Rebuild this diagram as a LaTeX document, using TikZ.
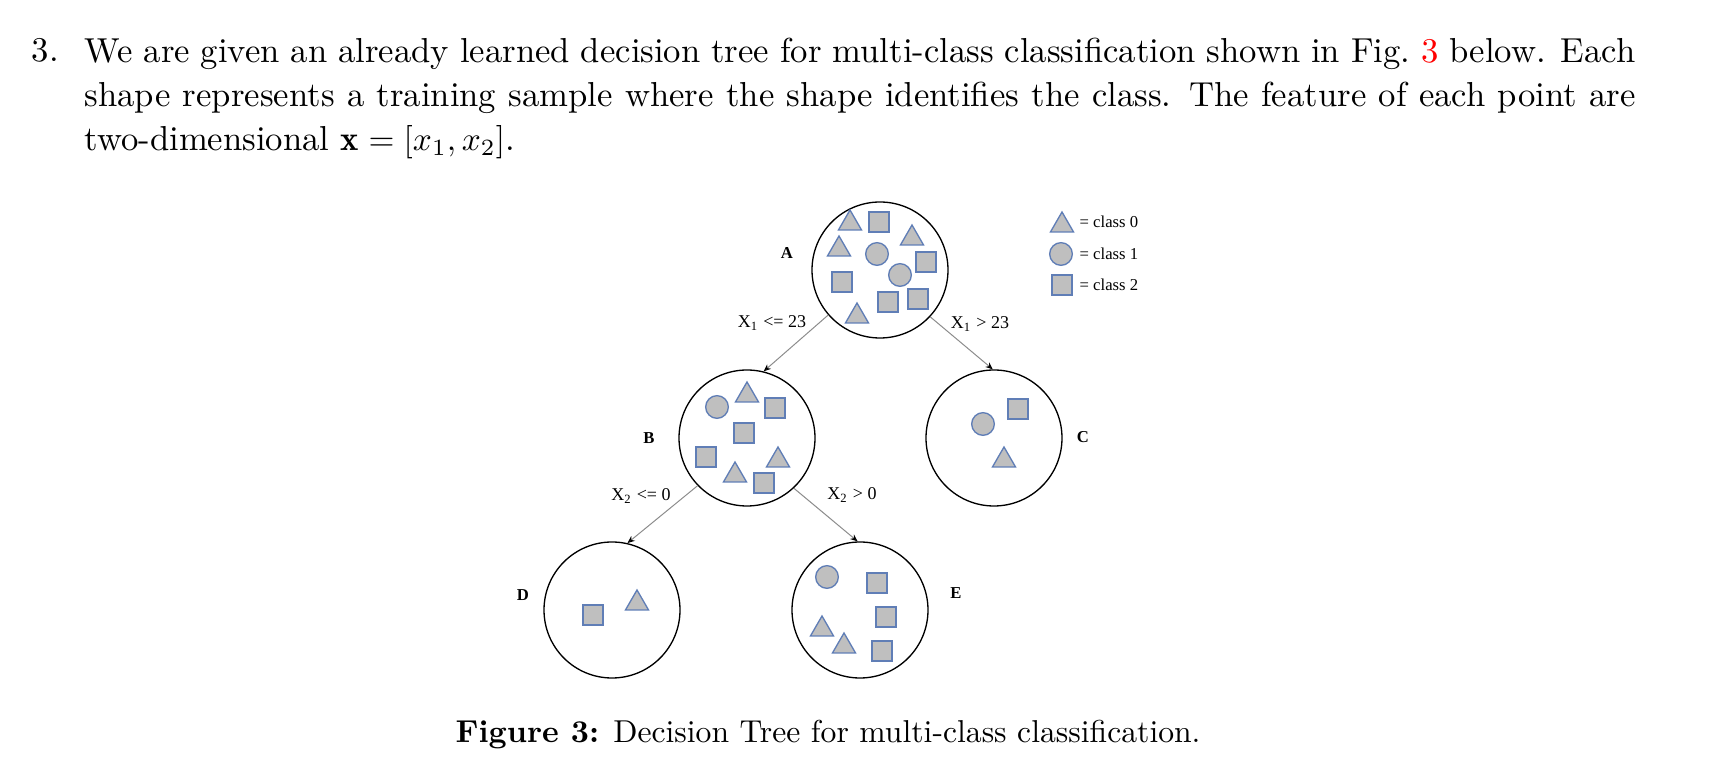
\documentclass[tikz,border=0pt]{standalone}
\usepackage{fontspec}
\newfontfamily\figfont{Liberation Serif}
\usetikzlibrary{arrows.meta,shapes.geometric}
\definecolor{shapefill}{RGB}{191,191,191}
\definecolor{shapeline}{RGB}{96,126,182}
\definecolor{edgegray}{RGB}{140,140,140}

\begin{document}
\begin{tikzpicture}[x=0.3pt,y=-0.3pt,>={Stealth[length=2.2pt,width=1.8pt,color=black]}]
  \tikzstyle{bin}=[circle,draw=black,line width=0.4pt,minimum size=40.8pt,inner sep=0pt]
  \tikzstyle{sq}=[rectangle,draw=shapeline,fill=shapefill,line width=0.4pt,minimum size=6pt,inner sep=0pt]
  \tikzstyle{dot}=[circle,draw=shapeline,fill=shapefill,line width=0.4pt,minimum size=6.8pt,inner sep=0pt]
  \tikzstyle{tri}=[regular polygon,regular polygon sides=3,draw=shapeline,fill=shapefill,line width=0.4pt,minimum size=8pt,inner sep=0pt,yshift=-1pt]
  \tikzstyle{binname}=[font=\figfont\fontsize{5}{6}\selectfont\bfseries,inner sep=0pt]
  \tikzstyle{rule}=[font=\figfont\fontsize{5.4}{6.5}\selectfont,inner sep=0pt]
  \tikzstyle{key}=[font=\figfont\fontsize{5}{6}\selectfont,inner sep=0pt,anchor=west]

  \useasboundingbox (0,0) rectangle (1721,777);

  % question text
  \node (num) [anchor=base west,inner sep=0pt,font=\fontsize{10.4}{13.2}\selectfont] at (31,61.3) {3.};
  \node (question) [anchor=north west,inner sep=0pt,text width=465.3pt,align=justify,
                    font=\fontsize{10.4}{13.2}\selectfont] at (84,37.2)
    {\noindent We are given an already learned decision tree for multi-class classification shown in Fig.~\textcolor{red}{3} below. Each\linebreak
     shape represents a training sample where the shape identifies the class. The feature of each point are\linebreak
     two-dimensional $\mathbf{x}=[x_1,x_2]$.};

  % tree nodes
  \node[bin] (A) at (880,270) {};
  \node[bin] (B) at (747,438) {};
  \node[bin] (C) at (994,438) {};
  \node[bin] (D) at (612,610) {};
  \node[bin] (E) at (860,610) {};

  \node[binname] (nA) at (787,253) {A};
  \node[binname] (nB) at (649,438) {B};
  \node[binname] (nC) at (1083,437) {C};
  \node[binname] (nD) at (523,595) {D};
  \node[binname] (nE) at (956,593) {E};

  % splits
  \path[->,edgegray,line width=0.3pt]
  (A.221) edge (B.76)
  (A.317) edge (C.91)
  (B.224) edge (D.77)
  (B.313) edge (E.92);

  \node[rule] (rAB) at (772,323) {X\textsubscript{1} <= 23};
  \node[rule] (rAC) at (980,324) {X\textsubscript{1} > 23};
  \node[rule] (rBD) at (641,496) {X\textsubscript{2} <= 0};
  \node[rule] (rBE) at (852,495) {X\textsubscript{2} > 0};

  % samples in A
  \node[tri] (a1) at (850,220) {};
  \node[sq]  (a2) at (879,222) {};
  \node[tri] (a3) at (912,235) {};
  \node[tri] (a4) at (839,246) {};
  \node[dot] (a5) at (877,254) {};
  \node[sq]  (a6) at (926,262) {};
  \node[dot] (a7) at (900,275) {};
  \node[sq]  (a8) at (842,282) {};
  \node[tri] (a9) at (857,313) {};
  \node[sq]  (a10) at (888,302) {};
  \node[sq]  (a11) at (918,299) {};

  % samples in B
  \node[dot] (b1) at (717,407) {};
  \node[tri] (b2) at (747,392) {};
  \node[sq]  (b3) at (775,408) {};
  \node[sq]  (b4) at (744,433) {};
  \node[sq]  (b5) at (706,457) {};
  \node[tri] (b6) at (778,457) {};
  \node[tri] (b7) at (735,472) {};
  \node[sq]  (b8) at (764,483) {};

  % samples in C
  \node[dot] (c1) at (983,424) {};
  \node[sq]  (c2) at (1018,409) {};
  \node[tri] (c3) at (1004,457) {};

  % samples in D
  \node[sq]  (d1) at (593,615) {};
  \node[tri] (d2) at (637,600) {};

  % samples in E
  \node[dot] (e1) at (827,577) {};
  \node[sq]  (e2) at (877,583) {};
  \node[sq]  (e3) at (886,617) {};
  \node[tri] (e4) at (822,626) {};
  \node[tri] (e5) at (844,643) {};
  \node[sq]  (e6) at (882,651) {};

  % legend
  \node[tri] (k0) at (1062,222) {};
  \node[dot] (k1) at (1061,254) {};
  \node[sq]  (k2) at (1062,285) {};
  \node[key] (t0) at (1079,222) {= class 0};
  \node[key] (t1) at (1079,254) {= class 1};
  \node[key] (t2) at (1079,285) {= class 2};

  % caption
  \node (caption) [anchor=base west,inner sep=0pt,font=\fontsize{9.5}{11.5}\selectfont] at (455,743)
    {\textbf{Figure 3:} Decision Tree for multi-class classification.};
\end{tikzpicture}
\end{document}
